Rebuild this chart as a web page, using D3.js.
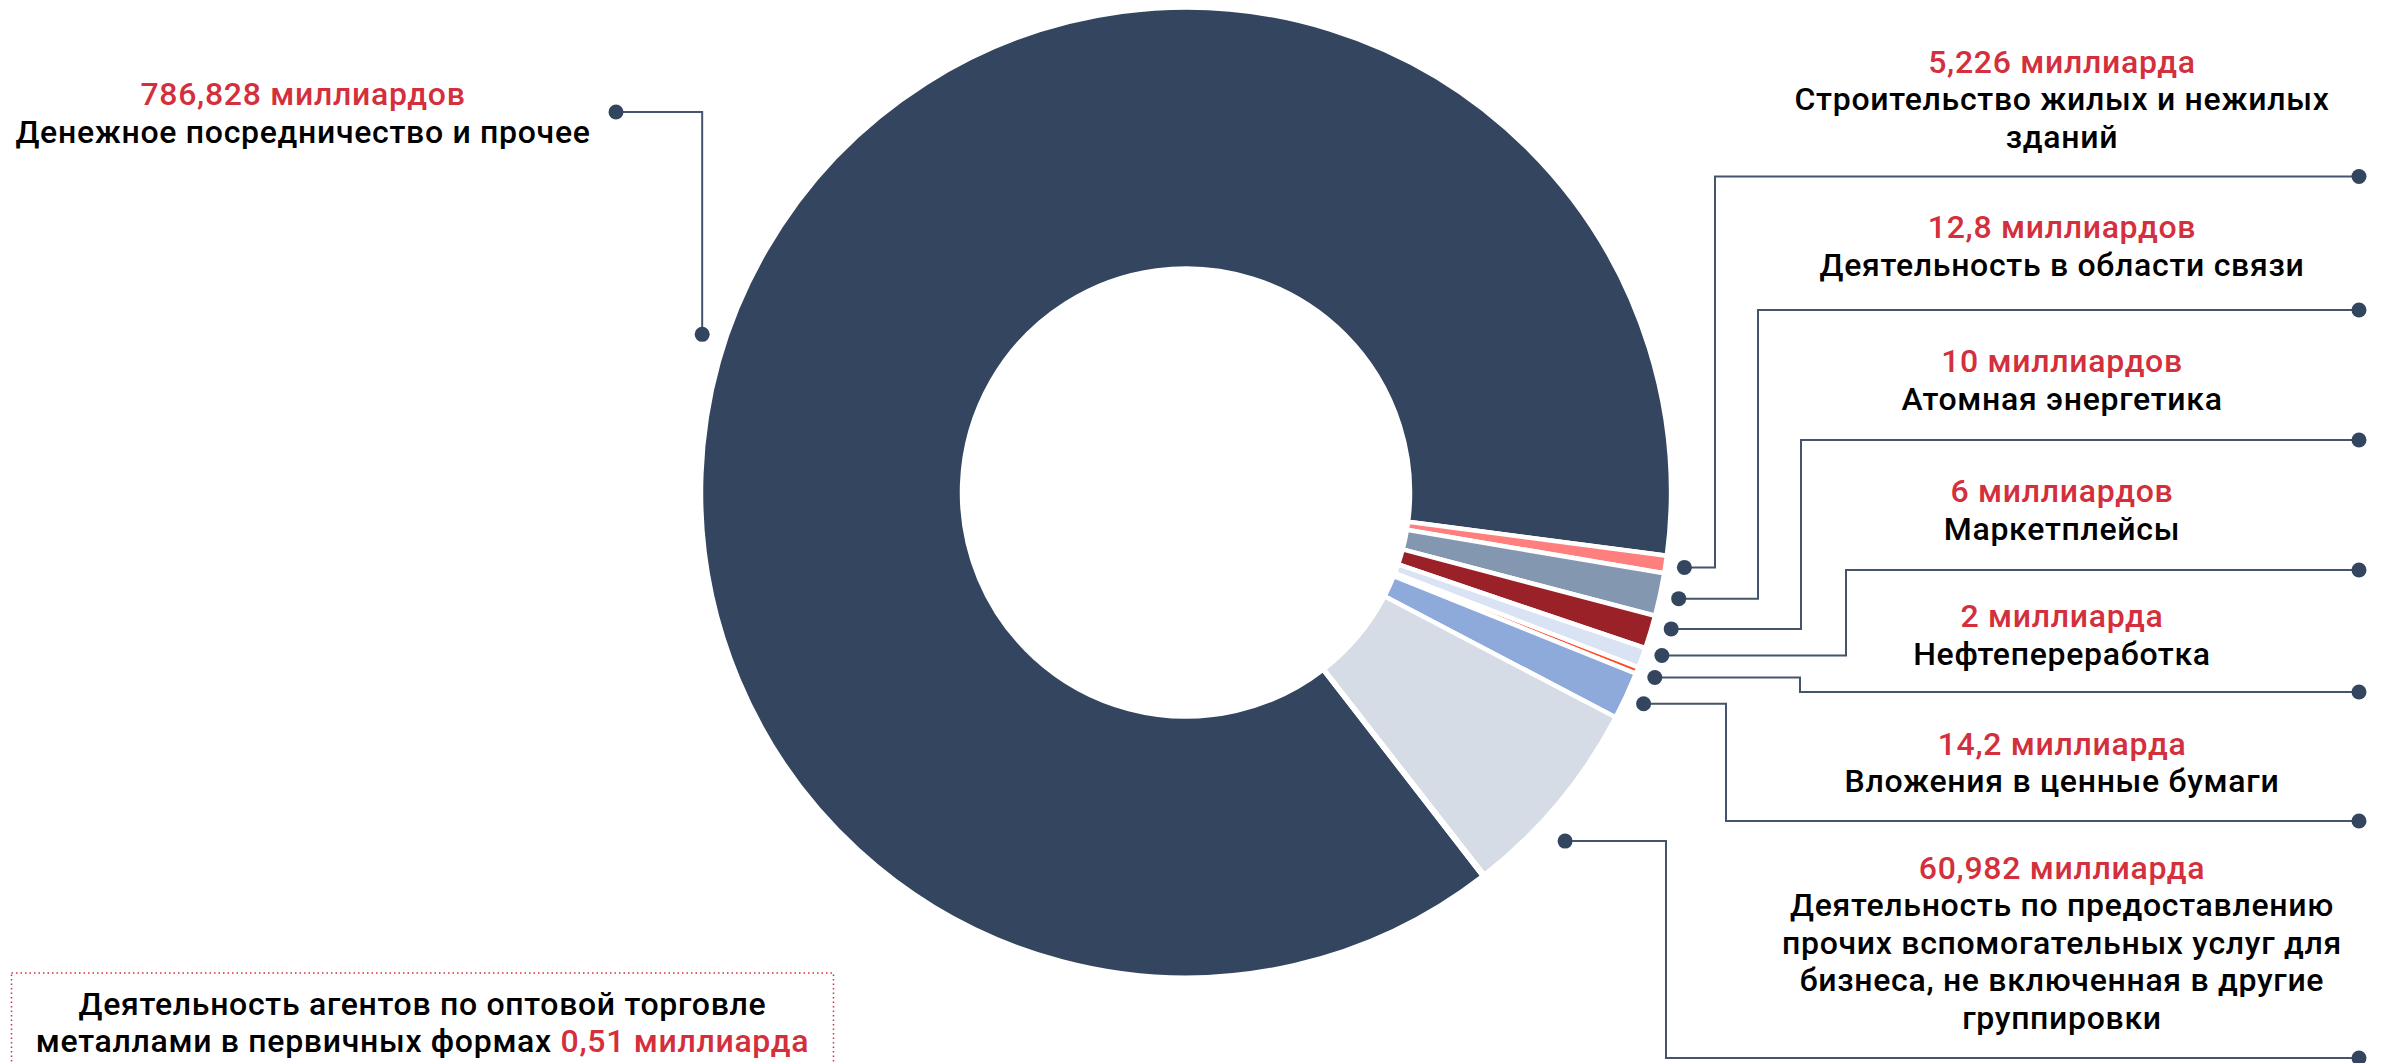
<!DOCTYPE html>
<html>
<head>
<meta charset="utf-8">
<script src="https://cdn.jsdelivr.net/npm/d3@7"></script>
<style>
  body { margin: 0; background: #fff; }
  text { font-family: Roboto, "Noto Sans", sans-serif; font-weight: 500; letter-spacing: 0.7px; }
</style>
</head>
<body>
<div id="chart-area"></div>
<script>
// data, in drawing order (clockwise)
var categories = [
  "Денежное посредничество и прочее",
  "Строительство жилых и нежилых зданий",
  "Деятельность в области связи",
  "Атомная энергетика",
  "Маркетплейсы",
  "Нефтепереработка",
  "Вложения в ценные бумаги",
  "Деятельность по предоставлению прочих вспомогательных услуг для бизнеса, не включенная в другие группировки",
  "Деятельность агентов по оптовой торговле металлами в первичных формах"
];
var values = [786.828, 5.226, 12.8, 10, 6, 2, 14.2, 60.982, 0.51];
var valueLabels = [
  "786,828 миллиардов", "5,226 миллиарда", "12,8 миллиардов", "10 миллиардов",
  "6 миллиардов", "2 миллиарда", "14,2 миллиарда", "60,982 миллиарда", "0,51 миллиарда"
];
var nameLines = [
  ["Денежное посредничество и прочее"],
  ["Строительство жилых и нежилых", "зданий"],
  ["Деятельность в области связи"],
  ["Атомная энергетика"],
  ["Маркетплейсы"],
  ["Нефтепереработка"],
  ["Вложения в ценные бумаги"],
  ["Деятельность по предоставлению", "прочих вспомогательных услуг для", "бизнеса, не включенная в другие", "группировки"],
  ["Деятельность агентов по оптовой торговле", "металлами в первичных формах"]
];
var colors = ["#33455f", "#ff7f7f", "#8497b0", "#9b2129", "#dae3f3", "#ff4a26", "#8eaadb", "#d6dce5", "#f4b183"];

var width = 2384, height = 1063;
var cx = 1186, cy = 492.5;
var outerR = 485, innerR = 224;
var red = "#d42f3c", lineColor = "#44546a", dotColor = "#33455f";
var lineGap = 37.6;
var fontSize = "32px";

var svg = d3.select("#chart-area")
  .append("svg")
    .attr("width", width)
    .attr("height", height);

var g = svg.append("g")
    .attr("transform", "translate(" + cx + ", " + cy + ")");

// the big slice ends 7.5deg below 3 o'clock
var total = d3.sum(values);
var start = (97.5 * Math.PI / 180) - values[0] / total * 2 * Math.PI;

var pie = d3.pie().sort(null).value((d) => d)
  .startAngle(start).endAngle(start + 2 * Math.PI);
var arc = d3.arc().innerRadius(innerR).outerRadius(outerR);
var arcs = pie(values);

g.selectAll("path.slice").data(arcs).enter().append("path")
  .attr("class", "slice")
  .attr("d", arc)
  .attr("fill", (d, i) => colors[i])
  .attr("stroke", "#fff")
  .attr("stroke-width", 4.5)
  .attr("stroke-linejoin", "miter");

// label layout (right side labels: value baseline, leader y, elbow x)
// screenAngle = degrees clockwise from 3 o'clock, used where the dot is not at the slice middle
var rightLabels = [
  {i: 1, textY: 72.7, lineY: 176.5, elbowX: 1715},
  {i: 2, textY: 238, lineY: 310, elbowX: 1758},
  {i: 3, textY: 372, lineY: 440, elbowX: 1801, screenAngle: 15.7, r: 504},
  {i: 4, textY: 502, lineY: 570, elbowX: 1846, screenAngle: 18.9, r: 503},
  {i: 5, textY: 627, lineY: 692, elbowX: 1800},
  {i: 6, textY: 754.5, lineY: 821, elbowX: 1726},
  {i: 7, textY: 878.6, lineY: 1058, elbowX: 1666, screenAngle: 42.6, r: 515}
];
var labelX = 2062, endX = 2359;

function anchor(i, screenAngle, r) {
  var rr = r || 504;
  if (screenAngle != null) {
    var s = screenAngle * Math.PI / 180;
    return [cx + rr * Math.cos(s), cy + rr * Math.sin(s)];
  }
  var a = (arcs[i].startAngle + arcs[i].endAngle) / 2;
  return [cx + rr * Math.sin(a), cy - rr * Math.cos(a)];
}

var lines = svg.append("g");
var labels = svg.append("g");

rightLabels.forEach((L) => {
  var p = anchor(L.i, L.screenAngle, L.r);
  lines.append("path")
    .attr("d", "M" + p[0] + "," + p[1] + "H" + L.elbowX + "V" + L.lineY + "H" + endX)
    .attr("fill", "none")
    .attr("stroke", lineColor)
    .attr("stroke-width", 2);
  lines.append("circle").attr("cx", p[0]).attr("cy", p[1]).attr("r", 7.5).attr("fill", dotColor);
  lines.append("circle").attr("cx", endX).attr("cy", L.lineY).attr("r", 7.5).attr("fill", dotColor);

  labels.append("text")
    .attr("x", labelX).attr("y", L.textY)
    .attr("text-anchor", "middle")
    .attr("font-size", fontSize)
    .attr("fill", red)
    .text(valueLabels[L.i]);
  nameLines[L.i].forEach((s, k) => {
    labels.append("text")
      .attr("x", labelX).attr("y", L.textY + lineGap * (k + 1))
      .attr("text-anchor", "middle")
      .attr("font-size", fontSize)
      .attr("fill", "#000")
      .text(s);
  });
});

// left label for the big slice
var lp = anchor(0, 198.1, 509);
lines.append("path")
  .attr("d", "M" + lp[0] + "," + lp[1] + "V112H616")
  .attr("fill", "none")
  .attr("stroke", lineColor)
  .attr("stroke-width", 2);
lines.append("circle").attr("cx", lp[0]).attr("cy", lp[1]).attr("r", 7.5).attr("fill", dotColor);
lines.append("circle").attr("cx", 616).attr("cy", 112).attr("r", 7.5).attr("fill", dotColor);

labels.append("text")
  .attr("x", 303).attr("y", 105)
  .attr("text-anchor", "middle")
  .attr("font-size", fontSize)
  .attr("fill", red)
  .text(valueLabels[0]);
labels.append("text")
  .attr("x", 303).attr("y", 105 + lineGap)
  .attr("text-anchor", "middle")
  .attr("font-size", fontSize)
  .attr("fill", "#000")
  .text(nameLines[0][0]);

// boxed note for the smallest slice
svg.append("rect")
  .attr("x", 11.5).attr("y", 973)
  .attr("width", 822).attr("height", 120)
  .attr("fill", "none")
  .attr("stroke", red)
  .attr("stroke-width", 1.5)
  .attr("stroke-dasharray", "1.5 3");

labels.append("text")
  .attr("x", 422.5).attr("y", 1015)
  .attr("text-anchor", "middle")
  .attr("font-size", fontSize)
  .attr("fill", "#000")
  .text(nameLines[8][0]);
var last = labels.append("text")
  .attr("x", 422.5).attr("y", 1051.5)
  .attr("text-anchor", "middle")
  .attr("font-size", fontSize)
  .attr("fill", "#000");
last.append("tspan").text(nameLines[8][1] + " ");
last.append("tspan").attr("fill", red).text(valueLabels[8]);
</script>
</body>
</html>
